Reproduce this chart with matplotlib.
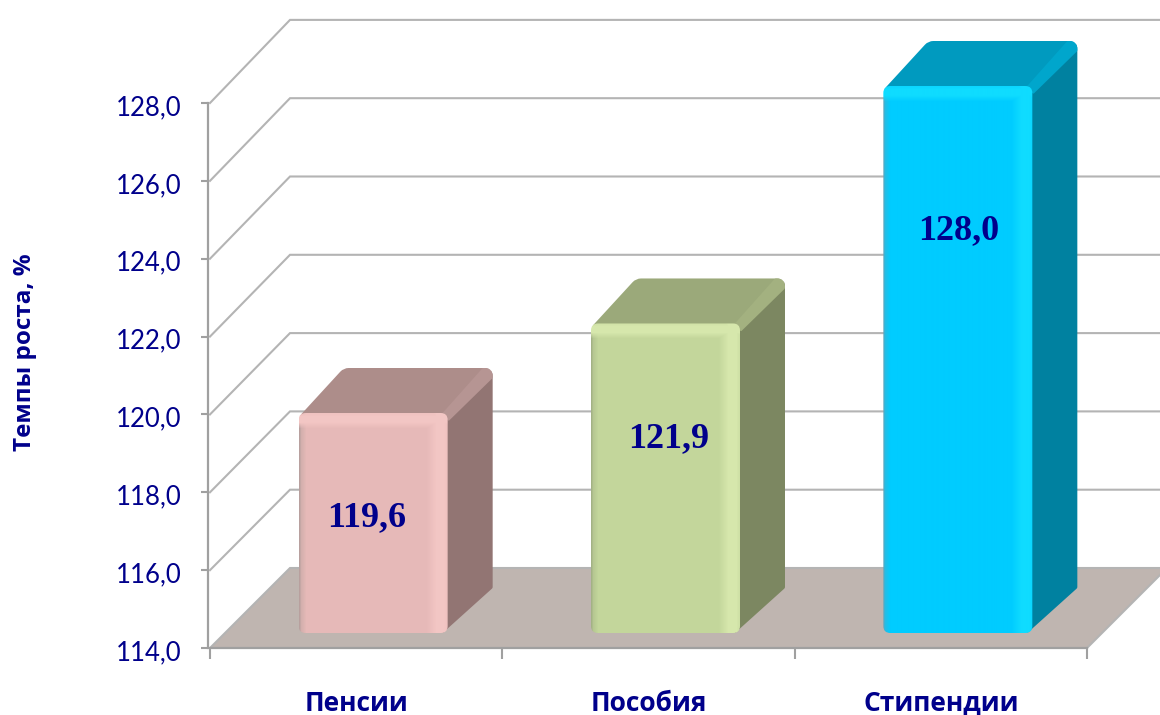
"""Growth rates of social payments: pseudo-3D column chart."""

import matplotlib

matplotlib.use("Agg")

import matplotlib.pyplot as plt
import numpy as np
from matplotlib.colors import to_rgb
from matplotlib.patches import FancyBboxPatch, PathPatch
from matplotlib.path import Path
from matplotlib.transforms import ScaledTranslation

categories = ["Пенсии", "Пособия", "Стипендии"]
values = [119.6, 121.9, 128.0]
value_labels = ["119,6", "121,9", "128,0"]
y_ticks = [114, 116, 118, 120, 122, 124, 126, 128]
y_tick_labels = ["114,0", "116,0", "118,0", "120,0", "122,0", "124,0", "126,0", "128,0"]
y_title = "Темпы роста, %"

NAVY = "#00008B"
AXIS_GREY = "#A0A0A0"
GRID_GREY = "#B4B4B4"
FLOOR = "#BFB5B0"
SANS = ["Lato", "Open Sans"]

# colours per bar: front, highlight, left edge, top, ridge, side
BAR_STYLES = [
    ("#E6B9B8", "#F3C6C4", "#B8A09E", "#AD8D8A", "#B69593", "#927573"),
    ("#C3D69B", "#D6E7AC", "#A3B285", "#9BA97A", "#A3B180", "#7C8761"),
    ("#00CCFF", "#0FDCFF", "#5AA8C0", "#009ABF", "#00A6CC", "#0081A0"),
]
# where each value label sits inside its bar (offset in px, height on the y scale)
LABEL_SHIFT_PX = [-7, 3, 1]
LABEL_Y = [117.35, 119.37, 124.72]

# plot frame in pixels of the 1160x715 figure
W, H = 1160, 715
LEFT, RIGHT, TOP, BOTTOM = 210, 1087, 103, 648
PX_X = 3 / (RIGHT - LEFT)  # category units per pixel
PX_Y = 14 / (BOTTOM - TOP)  # percent units per pixel

FLOOR_DX, FLOOR_DY = 80 * PX_X, 80 * PX_Y
BACK_STRETCH = 1.0057  # back wall grid is spaced a touch wider than the axis
BAR_DX, BAR_DY = 45 * PX_X, 45 * PX_Y
INSET_X, INSET_Y = 17 * PX_X, 15 * PX_Y
TOP_LIFT = 2 * PX_Y  # the bevel makes column tops read slightly high
BAR_W = 149 * PX_X


def rounded_patch(points, radii, color, zorder):
    """Closed polygon (data coords) with corners rounded by radii in pixels."""
    pts = [np.array(p) / (PX_X, PX_Y) for p in points]
    verts, codes = [], []
    n = len(pts)
    for i, p in enumerate(pts):
        r = radii[i]
        prev, nxt = pts[i - 1], pts[(i + 1) % n]
        a = p + (prev - p) / np.hypot(*(prev - p)) * r
        b = p + (nxt - p) / np.hypot(*(nxt - p)) * r
        verts.extend([a, p, b])
        codes.extend([Path.MOVETO if i == 0 else Path.LINETO, Path.CURVE3, Path.CURVE3])
    verts.append(verts[0])
    codes.append(Path.CLOSEPOLY)
    verts = np.array(verts) * (PX_X, PX_Y)
    return PathPatch(
        Path(verts, codes), facecolor=color, edgecolor="none", clip_on=False, zorder=zorder,
    )


def front_image(style, w_px, h_px):
    """RGB array with the bevelled look of a column's front face."""
    front, light, edge = (np.array(to_rgb(c)) for c in style[:3])
    xs = np.arange(w_px)
    ys = np.arange(h_px)
    blend_x = np.interp(xs, [0, 2, 7], [0, 0.6, 1])
    glow_x = np.interp(xs, [0, w_px - 22, w_px - 12, w_px - 4, w_px - 1], [0, 0, 1, 1, 0.6])
    glow_y = np.interp(ys, [0, 3, 9, 15, h_px], [0.7, 1, 1, 0, 0])
    glow = np.maximum.outer(glow_y, glow_x)
    img = np.zeros((h_px, w_px, 3))
    for i in range(3):
        base = edge[i] + (front[i] - edge[i]) * blend_x
        img[:, :, i] = base + (light[i] - base) * glow
    return img


def draw_bar(ax, pos, value, label, shift_px, label_y, style):
    x0 = pos - BAR_W / 2 + INSET_X
    x1 = x0 + BAR_W
    y0 = 114 + INSET_Y
    y1 = value + INSET_Y + TOP_LIFT
    ax.add_patch(
        rounded_patch(
            [(x1 - 5 * PX_X, y0), (x1 + BAR_DX, y0 + BAR_DY), (x1 + BAR_DX, y1 + BAR_DY), (x1 - 5 * PX_X, y1)],
            [1, 1, 8, 1], style[5], 3,
        )
    )
    ax.add_patch(
        rounded_patch(
            [(x0, y1 - 4 * PX_Y), (x1, y1 - 4 * PX_Y), (x1 + BAR_DX, y1 + BAR_DY), (x0 + BAR_DX, y1 + BAR_DY)],
            [5, 1, 8, 5], style[3], 3.05,
        )
    )
    ax.add_patch(
        rounded_patch(
            [
                (x1 - 6 * PX_X, y1 - 1 * PX_Y),
                (x1 + BAR_DX - 10 * PX_X, y1 + BAR_DY),
                (x1 + BAR_DX, y1 + BAR_DY),
                (x1 + BAR_DX, y1 + BAR_DY - 10 * PX_Y),
                (x1 + 1 * PX_X, y1 - 8 * PX_Y),
            ],
            [1, 1, 8, 1, 1], style[4], 3.1,
        )
    )

    outline = FancyBboxPatch(
        (x0, y0), BAR_W, y1 - y0,
        boxstyle=f"round,pad=0,rounding_size={7 * PX_X}",
        mutation_aspect=PX_Y / PX_X,
        facecolor="none", edgecolor="none", clip_on=False, zorder=3.2,
    )
    ax.add_patch(outline)
    img = front_image(style, 149, int(round((y1 - y0) / PX_Y)))
    im = ax.imshow(
        img, extent=(x0, x1, y0, y1), aspect="auto", origin="upper",
        interpolation="bilinear", zorder=3.3,
    )
    im.set_clip_path(outline)
    im.set_clip_box(ax.figure.bbox)

    ax.text(
        (x0 + x1) / 2 + shift_px * PX_X, label_y,
        label, ha="center", va="center", color=NAVY, zorder=4,
        family="Liberation Serif", fontweight="bold", fontsize=26,
    )


fig = plt.figure(figsize=(W / 100, H / 100), dpi=100, facecolor="white")
ax = fig.add_axes(
    [LEFT / W, 1 - BOTTOM / H, (RIGHT - LEFT) / W, (BOTTOM - TOP) / H],
    facecolor="none",
)

# floor
ax.add_patch(
    rounded_patch(
        [
            (-0.5, 114),
            (2.5, 114),
            (2.5 + FLOOR_DX, 114 + FLOOR_DY),
            (-0.5 + FLOOR_DX, 114 + FLOOR_DY),
        ],
        [0.1, 0.1, 0.1, 0.1], FLOOR, 1,
    )
)

# walls: each gridline runs back from the axis and then across
for tick in y_ticks:
    back = 114 + FLOOR_DY + (tick - 114) * BACK_STRETCH
    ax.plot(
        [-0.5, -0.5 + FLOOR_DX, 2.5 + FLOOR_DX],
        [tick, back, back],
        color=GRID_GREY, lw=1.5, clip_on=False, zorder=2, solid_joinstyle="miter",
    )
ax.plot(
    [2.5, 2.5 + FLOOR_DX], [114, 114 + FLOOR_DY],
    color=GRID_GREY, lw=1.5, clip_on=False, zorder=2,
)

for pos, (value, label, shift, label_y, style) in enumerate(
    zip(values, value_labels, LABEL_SHIFT_PX, LABEL_Y, BAR_STYLES)
):
    draw_bar(ax, pos, value, label, shift, label_y, style)

ax.set_xlim(-0.5, 2.5)
ax.set_ylim(114, 128)

for name in ("top", "right"):
    ax.spines[name].set_visible(False)
for name in ("left", "bottom"):
    ax.spines[name].set_color(AXIS_GREY)
    ax.spines[name].set_linewidth(1.6)
    ax.spines[name].set_zorder(2.5)
ax.spines["left"].set_position(("outward", 1.5))

ax.set_yticks(y_ticks, labels=y_tick_labels)
ax.tick_params(
    axis="y", length=5, width=1.5, color=AXIS_GREY, labelcolor=NAVY,
    labelsize=18.5, pad=14,
)
ax.set_xticks([-0.5, 0.5, 1.5, 2.5], labels=[])
ax.set_xticks([0, 1, 2], labels=categories, minor=True)
ax.tick_params(axis="x", which="major", length=8, width=1.5, color=AXIS_GREY)
ax.tick_params(axis="x", which="minor", length=0, labelcolor=NAVY, pad=30)
for text in ax.get_xticklabels(minor=True):
    text.set(family=["Open Sans", "Noto Sans"], fontweight="bold", fontsize=19)
label_drop = ScaledTranslation(0, -2 / 100, fig.dpi_scale_trans)
for text in ax.get_yticklabels():
    text.set_family(SANS)
    text.set_transform(text.get_transform() + label_drop)

fig.text(
    25 / W, 1 - 352 / H, y_title, rotation=90, ha="center", va="center",
    color=NAVY, family=["Open Sans", "Noto Sans"], fontweight="bold", fontsize=17.5,
)

fig.savefig("out.png", dpi=100)
